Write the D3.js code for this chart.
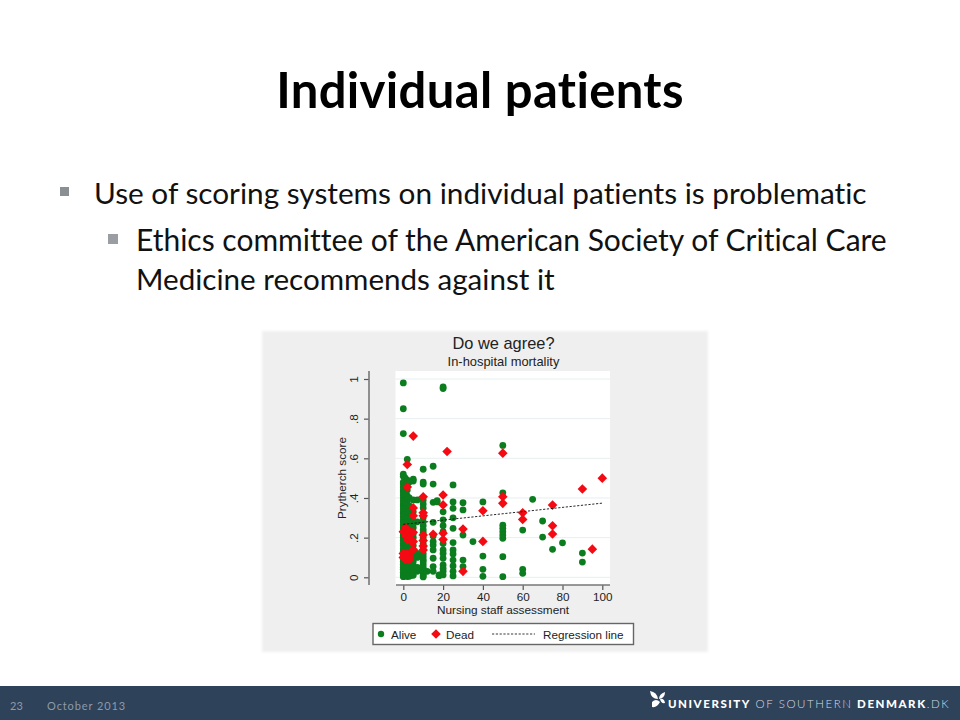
<!DOCTYPE html>
<html><head><meta charset="utf-8">
<script src="https://cdn.jsdelivr.net/npm/d3@7"></script>
<style>html,body{margin:0;padding:0;background:#fff}svg{display:block}text{font-variant-ligatures:none}</style>
</head><body><svg id="c" width="960" height="720"></svg>
<script>
const slideTitle="Individual patients";
const bullets=["Use of scoring systems on individual patients is problematic"];
const subBullets=["Ethics committee of the American Society of Critical Care","Medicine recommends against it"];
const chartTitle="Do we agree?", chartSubtitle="In-hospital mortality";
const xLabel="Nursing staff assessment", yLabel="Prytherch score";
const xTicks=[0,20,40,60,80,100];
const yTicks=[0,.2,.4,.6,.8,1];
const yTickLabels=["0",".2",".4",".6",".8","1"];
const legendLabels=["Alive","Dead","Regression line"];
// each column: [x, [y values]]
const aliveColumns=[
[0,[.98,.85,.725,.52,.51,.48,.47,.455,.44,.43,.415,.40,.385,.37,.36,.345,.33,.32,.305,.29,.28,.265,.25,.24,.225,.21,.20,.185,.17,.16,.145,.13,.12,.105,.09,.08,.065,.05,.04,.025,.012,.003]],
[1,[.50,.46,.42,.38,.35,.31,.27,.23,.18,.14,.09,.06,.03,.01]],
[2,[.595,.49,.47,.44,.41,.39,.37,.345,.325,.30,.275,.26,.205,.17,.155,.135,.075,.06,.045,.03,.015,.004]],
[3,[.48,.40,.36,.30,.27,.17,.14,.07,.05,.02,.005]],
[4,[.33,.28,.15,.11,.06,.03,.01]],
[5,[.495,.485,.39,.33,.285,.27,.25,.22,.20,.16,.13,.12,.10,.08,.06,.04,.025,.01]],
[7,[.39,.28,.12,.10,.05,.03]],
[10,[.545,.48,.47,.39,.37,.35,.30,.28,.26,.24,.225,.20,.17,.15,.12,.105,.09,.08,.065,.05,.04,.03,.018,.008,.002]],
[12,[.03]],
[15,[.56,.47,.378,.277,.208,.18,.163,.138,.096,.054,.03]],
[17,[.38,.386]],
[18,[.008,.012]],
[20,[.96,.952,.33,.29,.26,.23,.17,.138,.12,.096,.062,.045,.03,.012]],
[25,[.466,.38,.348,.30,.247,.175,.138,.118,.087,.057,.03,.007]],
[30,[.376,.34,.213,.087,.054]],
[35,[.18]],
[40,[.38,.107,.04,.005]],
[50,[.665,.426,.263,.247,.23,.213,.197,.104,.003]],
[60,[.238,.04,.02]],
[65,[.393]],
[70,[.284,.203]],
[75,[.141]],
[80,[.174]],
[90,[.122,.077]]
];
const deadColumns=[
[0,[.23,.12,.10]],
[1,[.25,.21,.11,.09]],
[2,[.569,.456,.24,.19,.12,.10]],
[3,[.23,.20,.11,.09]],
[4,[.18]],
[5,[.712,.35,.31,.227,.18,.14]],
[10,[.406,.326,.31,.213,.185,.158,.138]],
[15,[.217]],
[20,[.415,.365,.222,.19]],
[22,[.634]],
[30,[.243,.03]],
[40,[.336,.181]],
[50,[.626,.406,.373]],
[60,[.325,.292]],
[75,[.364,.26,.218]],
[90,[.445]],
[95,[.142]],
[100,[.50]]
];
const regressionLine=[[0,.267],[100,.374]];
const footerPage="23", footerDate="October 2013";

const svg=d3.select("#c");
const font="'Liberation Sans',Arial,sans-serif", slideFont="Lato,sans-serif";
const text=(s,x,y,size,o={})=>svg.append("text").attr("x",x).attr("y",y).attr("font-family",o.f||font)
  .attr("font-size",size).attr("font-weight",o.w||400).attr("fill",o.c||"#222").attr("text-anchor",o.a||"start")
  .attr("letter-spacing",o.ls||null).text(s);

// slide
text(slideTitle,480,108,49,{f:slideFont,w:700,a:"middle",c:"#000",ls:.35});
svg.append("rect").attr("x",60).attr("y",187).attr("width",9).attr("height",9).attr("fill","#8a8f94");
svg.append("rect").attr("x",108).attr("y",234).attr("width",10).attr("height",10).attr("fill","#9a9ea3");
text(bullets[0],94,204,29.75,{f:slideFont,c:"#111"});
text(subBullets[0],136,251,30,{f:slideFont,c:"#111"});
text(subBullets[1],136,290,29.6,{f:slideFont,c:"#111"});

// chart panel
svg.append("filter").attr("id","soft").append("feGaussianBlur").attr("stdDeviation",1.6);
svg.append("rect").attr("x",262).attr("y",331).attr("width",446).attr("height",321).attr("fill","#efefef").attr("filter","url(#soft)");
svg.append("rect").attr("x",395.5).attr("y",371).attr("width",214.5).attr("height",214).attr("fill","#fff");

const x=d3.scaleLinear().domain([0,100]).range([403.3,602.3]);
const y=d3.scaleLinear().domain([0,1]).range([577.3,379]);

svg.append("g").selectAll("line").data(yTicks).join("line")
  .attr("x1",395.5).attr("x2",610).attr("y1",d=>y(d)).attr("y2",d=>y(d)).attr("stroke","#e8eef0").attr("stroke-width",1);

const yAxis=svg.append("g").attr("transform","translate(369,0)")
  .call(d3.axisLeft(y).tickValues(yTicks).tickSize(5).tickPadding(4).tickFormat((d,i)=>yTickLabels[i]));
yAxis.select(".domain").remove();
yAxis.append("line").attr("y1",371).attr("y2",585);
yAxis.selectAll("line").attr("stroke","#555").attr("stroke-width",1.2);
yAxis.select("g ~ line").attr("stroke","#777").attr("stroke-width",1.6);
yAxis.selectAll("text").attr("font-family",font).attr("font-size",11.7).attr("fill","#222")
  .attr("text-anchor","middle").attr("dy",0).attr("x",0)
  .attr("transform","translate(-11,0) rotate(-90)");

const xAxis=svg.append("g").attr("transform","translate(0,585)")
  .call(d3.axisBottom(x).tickValues(xTicks).tickSize(5).tickPadding(3));
xAxis.select(".domain").remove();
xAxis.append("line").attr("x1",396).attr("x2",610);
xAxis.selectAll("line").attr("stroke","#555").attr("stroke-width",1.2);
xAxis.select("g ~ line").attr("stroke","#777").attr("stroke-width",1.6);
xAxis.selectAll("text").attr("font-family",font).attr("font-size",11.7).attr("fill","#222");

text(chartTitle,503.5,348.5,16.4,{a:"middle"});
text(chartSubtitle,503.5,366,12.9,{a:"middle"});
text(xLabel,503,614,11.8,{a:"middle"});
svg.append("text").attr("transform","translate(346,478) rotate(-90)").attr("font-family",font).attr("font-size",11.7)
  .attr("fill","#222").attr("text-anchor","middle").text(yLabel);

const flat=cols=>cols.flatMap(([vx,ys])=>ys.map(v=>[vx,v]));
const GREEN="#0b7d1e", RED="#f40a12";
const diamond=d3.symbol().type(d3.symbolSquare).size(46)();
svg.append("g").selectAll("circle").data(flat(aliveColumns)).join("circle")
  .attr("cx",d=>x(d[0])).attr("cy",d=>y(d[1])).attr("r",3.4).attr("fill",GREEN);
svg.append("g").selectAll("path").data(flat(deadColumns)).join("path").attr("d",diamond)
  .attr("transform",d=>`translate(${x(d[0])},${y(d[1])}) rotate(45)`).attr("fill",RED);
svg.append("path").attr("d",d3.line().x(d=>x(d[0])).y(d=>y(d[1]))(regressionLine))
  .attr("fill","none").attr("stroke","#111").attr("stroke-width",.9).attr("stroke-dasharray","2.2 1.6");

// legend
svg.append("rect").attr("x",373).attr("y",623.5).attr("width",260.5).attr("height",21).attr("fill","#fff").attr("stroke","#666").attr("stroke-width",1.4);
svg.append("circle").attr("cx",381).attr("cy",634).attr("r",3.2).attr("fill",GREEN);
text(legendLabels[0],391,638.5,11.7);
svg.append("path").attr("d",diamond).attr("transform","translate(436,634) rotate(45)").attr("fill",RED);
text(legendLabels[1],446,638.5,11.7);
svg.append("line").attr("x1",492).attr("x2",535).attr("y1",634).attr("y2",634).attr("stroke","#222").attr("stroke-width",.9).attr("stroke-dasharray","2.2 1.6");
text(legendLabels[2],543,638.5,11.7);

// footer
svg.append("rect").attr("x",0).attr("y",686).attr("width",960).attr("height",34).attr("fill","#2e4259");
text(footerPage,10,710,11,{f:slideFont,c:"#8d9aa9"});
text(footerDate,47,710,11,{f:slideFont,c:"#8d9aa9",ls:.9});
const ft=svg.append("text").attr("x",668).attr("y",708).attr("font-family",slideFont).attr("font-size",11.5).attr("fill","#fff").attr("letter-spacing",1.55);
ft.append("tspan").attr("font-weight",900).text("UNIVERSITY");
ft.append("tspan").attr("font-weight",300).attr("fill","#d5dbe2").text(" OF SOUTHERN ");
ft.append("tspan").attr("font-weight",900).text("DENMARK");
ft.append("tspan").attr("font-weight",300).attr("fill","#d5dbe2").text(".DK");
svg.append("g").attr("fill","#fff").selectAll("path").data([
 "M650 691 Q657 692 658 699 Q651 699 650 691Z",
 "M665 692 Q665 698 659 699 Q659 694 665 692Z",
 "M652 702 Q656 698 660 702 Q657 708 652 707Z",
 "M660 699 Q664 698 665 703 Q661 704 660 699Z"]).join("path").attr("d",d=>d);
</script></body></html>
